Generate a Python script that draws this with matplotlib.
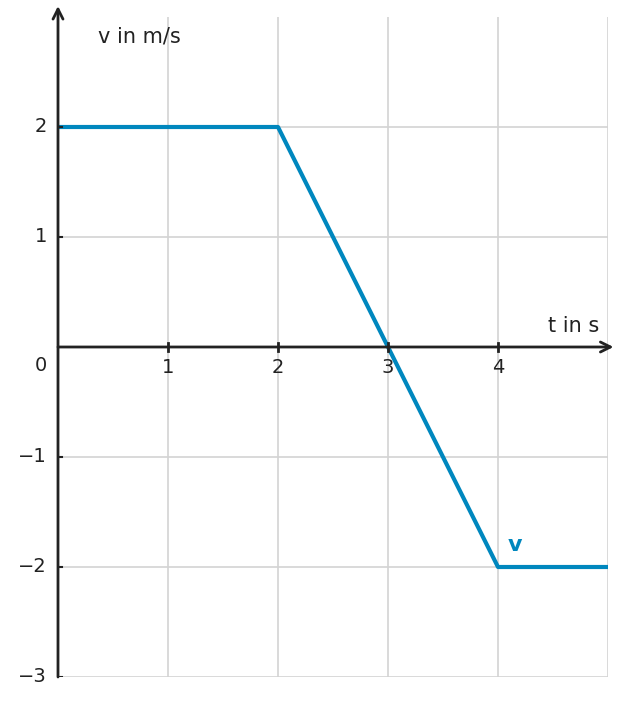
import matplotlib
matplotlib.use("Agg")
import matplotlib.pyplot as plt

t = [0, 2, 4, 5]
v = [2, 2, -2, -2]
xticks = [1, 2, 3, 4]
yticks = [-3, -2, -1, 1, 2]

fig = plt.figure(figsize=(6.25, 7.05), dpi=100)
ax = fig.add_axes([58/625, 28/705, 550/625, 660/705])
ax.set_xlim(0, 5)
ax.set_ylim(-3, 3)
for s in ax.spines.values():
    s.set_visible(False)
ax.set_xticks([]); ax.set_yticks([])
grid = "#d3d3d3"
for x in [1, 2, 3, 4, 5]:
    ax.axvline(x, color=grid, lw=1.2, zorder=0)
for y in [-3, -2, -1, 1, 2]:
    ax.axhline(y, color=grid, lw=1.2, zorder=0)
ax.plot(t, v, color="#0087be", lw=3, zorder=3, clip_on=False, solid_capstyle="butt")
ak = dict(arrowstyle="->", color="#222222", lw=2, mutation_scale=18, shrinkA=0, shrinkB=0)
ax.annotate("", xy=(5.05, 0), xytext=(0, 0), arrowprops=ak, annotation_clip=False)
ax.annotate("", xy=(0, 3.1), xytext=(0, -3), arrowprops=ak, annotation_clip=False)
for x in xticks:
    ax.plot([x, x], [-0.04, 0.04], color="#222222", lw=2, zorder=4)
    ax.text(x, -0.1, str(x), ha="center", va="top", fontsize=14, color="#222222")
for y in yticks:
    ax.plot([0, 0.04], [y, y], color="#222222", lw=1.5, zorder=4)
    ax.text(-0.1, y, "\u2212%d" % -y if y < 0 else str(y), ha="right", va="center", fontsize=14, color="#222222")
ax.text(-0.1, -0.17, "0", ha="right", va="center", fontsize=14, color="#222222")
ax.text(0.36, 2.82, "v in m/s", ha="left", va="center", fontsize=15, color="#222222")
ax.text(4.92, 0.19, "t in s", ha="right", va="center", fontsize=15, color="#222222")
ax.text(4.15, -1.8, "v", ha="center", va="center", fontsize=16, color="#0087be", fontweight="bold")
fig.savefig("out.png", dpi=100, facecolor="white")
